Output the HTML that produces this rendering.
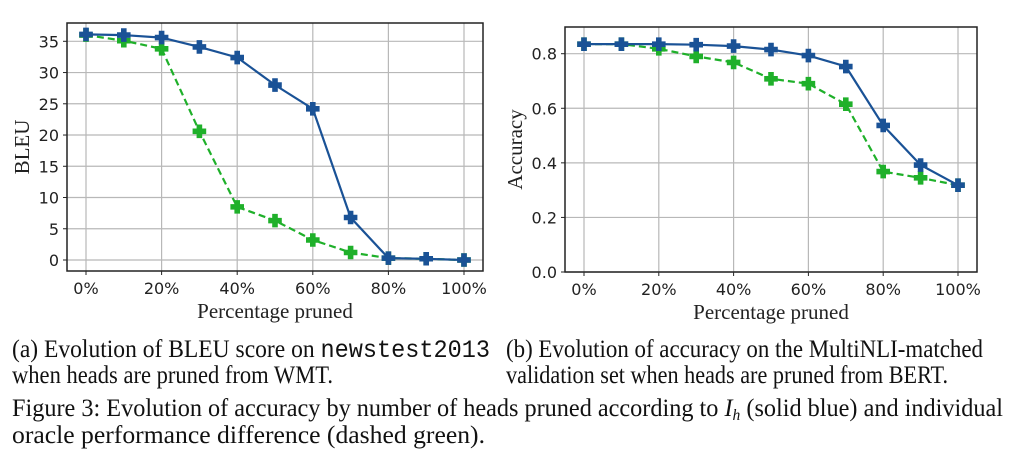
<!DOCTYPE html>
<html><head><meta charset="utf-8"><style>
html,body{margin:0;padding:0;background:#fff;}
svg{display:block;}
.tk{font-family:"DejaVu Sans","Liberation Sans",sans-serif;font-size:16px;fill:#222;}
.ax{font-family:"Liberation Serif",serif;font-size:21px;fill:#222;}
.cap{font-family:"Liberation Serif",serif;font-size:25px;fill:#111;}
.mono{font-family:"Liberation Mono",monospace;}
</style></head><body>
<svg id="fig" width="1014" height="473">
<text class="cap" x="12" y="357" textLength="478" lengthAdjust="spacingAndGlyphs">(a)  Evolution of BLEU score on <tspan class="mono">newstest2013</tspan></text>
<text class="cap" x="12" y="383" textLength="321" lengthAdjust="spacingAndGlyphs">when heads are pruned from WMT.</text>
<text class="cap" x="506" y="357" textLength="477" lengthAdjust="spacingAndGlyphs">(b)  Evolution of accuracy on the MultiNLI-matched</text>
<text class="cap" x="506" y="383" textLength="442" lengthAdjust="spacingAndGlyphs">validation set when heads are pruned from BERT.</text>
<text class="cap" x="12" y="416" textLength="991" lengthAdjust="spacingAndGlyphs">Figure 3: Evolution of accuracy by number of heads pruned according to <tspan font-style="italic">I</tspan><tspan font-style="italic" font-size="16" dy="4">h</tspan><tspan dy="-4"> (solid blue) and individual</tspan></text>
<text class="cap" x="12" y="443" textLength="473" lengthAdjust="spacingAndGlyphs">oracle performance difference (dashed green).</text>
</svg>
<script>
const xCats=[0,10,20,30,40,50,60,70,80,90,100];
const xTicks=[0,20,40,60,80,100];
const bleuBlue=[36.1,36.0,35.6,34.1,32.4,28.0,24.2,6.8,0.3,0.2,0.0];
const bleuGreen=[36.0,35.1,33.8,20.6,8.5,6.3,3.2,1.2,0.3,0.2,0.0];
const bleuTicks=[0,5,10,15,20,25,30,35];
const accBlue=[0.835,0.835,0.835,0.833,0.828,0.815,0.793,0.753,0.537,0.392,0.318];
const accGreen=[0.835,0.835,0.818,0.79,0.768,0.708,0.69,0.615,0.368,0.345,0.318];
const accTicks=[0.0,0.2,0.4,0.6,0.8];

const NS="http://www.w3.org/2000/svg";
const svg=document.getElementById('fig');
function mk(tag,attrs,parent){const e=document.createElementNS(NS,tag);for(const k in attrs)e.setAttribute(k,attrs[k]);(parent||svg).appendChild(e);return e;}

function plot(o){
  const g=mk('g',{});
  
  
  const xs=v=>o.x0+(v-0)/(100)*(o.x1-o.x0);
  const ys=v=>o.y0+(v-o.ymin)/(o.yref-o.ymin)*(o.y1-o.y0);
  xTicks.forEach(t=>{
    const l=mk('line',{x1:xs(t),x2:xs(t),y1:o.top,y2:o.bot,stroke:'#b8b8b8','stroke-width':1.2},g);
    
    
    const tx=mk('text',{x:xs(t),y:o.bot+23,'text-anchor':'middle',class:'tk'},g);
    tx.textContent=t+'%';
    
    
    mk('line',{x1:xs(t),x2:xs(t),y1:o.bot,y2:o.bot+4,stroke:'#222'},g);
  });
  o.ticks.forEach(t=>{
    const y=ys(t);
    const l=mk('line',{x1:o.left,x2:o.right,y1:y,y2:y,stroke:'#b8b8b8','stroke-width':1.2},g);
    
    
    const tx=mk('text',{x:o.left-8,y:y+6,'text-anchor':'end',class:'tk'},g);
    tx.textContent=o.fmt(t);
    
    
    mk('line',{x1:o.left-4,x2:o.left,y1:y,y2:y,stroke:'#222'},g);
  });
  function series(vals,color,dash,nm){
    const pts=xCats.map((c,i)=>xs(c).toFixed(1)+','+ys(vals[i]).toFixed(1)).join(' ');
    const pl=mk('polyline',{points:pts,fill:'none',stroke:color,'stroke-width':2.2,'stroke-dasharray':dash},g);
    
    
    xCats.forEach((c,i)=>{
      const x=xs(c),y=ys(vals[i]),a=2.8,b=6.8;
      const p=mk('path',{d:`M${x-a},${y-b}h${2*a}v${b-a}h${b-a}v${2*a}h${a-b}v${b-a}h${-2*a}v${a-b}h${a-b}v${-2*a}h${b-a}z`,fill:color},g);
      
      
    });
  }
  series(o.green,'#1fb02a','7,4','green-series');
  series(o.blue,'#1a5296','none','blue-series');
  const fr=mk('rect',{x:o.left,y:o.top,width:o.right-o.left,height:o.bot-o.top,fill:'none',stroke:'#222','stroke-width':1.5},g);
  
  
  const xl=mk('text',{x:(o.left+o.right)/2,y:o.bot+47,'text-anchor':'middle',class:'ax'},g);
  xl.textContent='Percentage pruned';
  
  
  const yl=mk('text',{x:0,y:0,'text-anchor':'middle',class:'ax',transform:`translate(${o.ylx},${(o.top+o.bot)/2}) rotate(-90)`},g);
  yl.textContent=o.ylabel;
  
  
}
plot({name:'bleu-chart',left:67,right:483,top:23,bot:271,x0:86,x1:464,ymin:0,yref:35,y0:260,y1:41.3,
  ticks:bleuTicks,fmt:t=>String(t),blue:bleuBlue,green:bleuGreen,ylabel:'BLEU',ylx:29});
plot({name:'accuracy-chart',left:565,right:977,top:27,bot:272,x0:584,x1:958,ymin:0,yref:0.8,y0:272,y1:53.7,
  ticks:accTicks,fmt:t=>t.toFixed(1),blue:accBlue,green:accGreen,ylabel:'Accuracy',ylx:522});
</script>
</body></html>
